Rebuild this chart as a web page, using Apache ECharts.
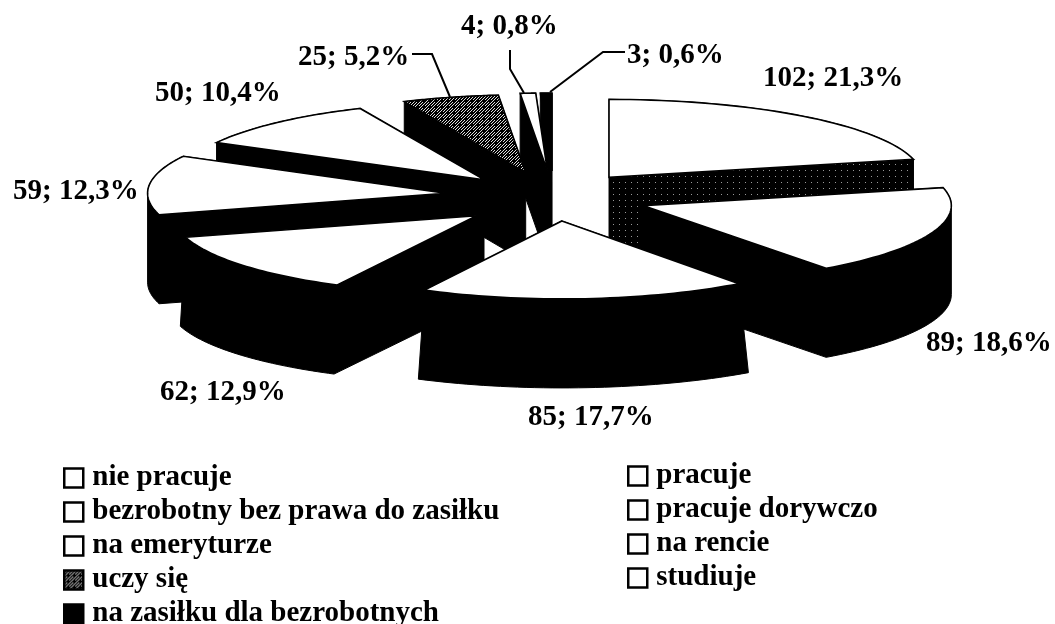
<!DOCTYPE html>
<html>
<head>
<meta charset="utf-8">
<style>html,body{margin:0;padding:0;background:#fff}#main{width:1055px;height:624px}</style>
<script src="https://cdn.jsdelivr.net/npm/echarts@6/dist/echarts.min.js"></script>
</head>
<body>
<div id="main"></div>
<script>
// order = clockwise from 12 o'clock, legend reads row by row
const categories = ['nie pracuje', 'pracuje', 'bezrobotny bez prawa do zasiłku', 'pracuje dorywczo',
    'na emeryturze', 'na rencie', 'uczy się', 'studiuje', 'na zasiłku dla bezrobotnych'];
const values = [102, 89, 85, 62, 59, 50, 25, 4, 3];
const leftLegend = ['nie pracuje', 'bezrobotny bez prawa do zasiłku', 'na emeryturze', 'uczy się', 'na zasiłku dla bezrobotnych'];
const rightLegend = ['pracuje', 'pracuje dorywczo', 'na rencie', 'studiuje'];

// layout
const labelPos = [[763, 79], [926, 344], [528, 418], [160, 393], [13, 192], [155, 94], [298, 58], [461, 27], [627, 56]];
const leaders = { 6: [[412, 54], [432, 54], [450, 97]], 7: [[510, 50], [510, 69], [524, 93]], 8: [[625, 52], [603, 52], [550, 92]] };
const radiusScale = [1.05, 1.035, 1, 1.015, 1, 1.02, 1, 1, 1];
const bottomSpread = [1, 1, 1.05, 1.015, 1, 1, 1, 1, 1];
const nudge = [[-2, 1], [0, 1], [5, 0], [5, 4], [-4, 0], [3, 2], [2, 1], [5, 0], [5, 0]];
const drawOrder = [8, 7, 6, 5, 0, 4, 1, 3, 2];
const cx = 549, cy = 196, rx = 298, ry = 78, explodeX = 100, explodeY = 25, depth = 89;
const labelFont = 'bold 29px "Liberation Serif"';

function stipple(bg, fg, cells) {
    const c = document.createElement('canvas');
    c.width = c.height = 6;
    const g = c.getContext('2d');
    g.fillStyle = bg;
    g.fillRect(0, 0, 6, 6);
    g.fillStyle = fg;
    cells.forEach(p => g.fillRect(p[0], p[1], 1, 1));
    return { image: c, repeat: 'repeat' };
}
const gray = stipple('#000', '#ddd', [[0, 5], [1, 4], [2, 3], [3, 2], [4, 1], [5, 0], [2, 0], [1, 1], [0, 2], [5, 3]]);
const darkWall = stipple('#000', '#999', [[1, 2]]);
const topFill = categories.map((c, i) => i === 6 ? gray : i === 8 ? '#000' : '#fff');
const wallFill = categories.map((c, i) => i === 0 ? darkWall : '#000');

const total = values.reduce((a, b) => a + b, 0);
let sum = 0;
const starts = values.map(v => { const s = sum; sum += v; return s; });

function hull(pts) {
    const p = pts.slice().sort((a, b) => a[0] - b[0] || a[1] - b[1]);
    const cross = (o, a, b) => (a[0] - o[0]) * (b[1] - o[1]) - (a[1] - o[1]) * (b[0] - o[0]);
    const half = list => {
        const out = [];
        list.forEach(q => {
            while (out.length > 1 && cross(out[out.length - 2], out[out.length - 1], q) <= 0) out.pop();
            out.push(q);
        });
        out.pop();
        return out;
    };
    return half(p).concat(half(p.slice().reverse()));
}

function sliceItem(i) {
    return function (params, api) {
        const v = api.value(0);
        const a0 = starts[i] / total * 2 * Math.PI;
        const a1 = a0 + v / total * 2 * Math.PI;
        const mid = (a0 + a1) / 2;
        const ox = cx + nudge[i][0] + explodeX * Math.sin(mid), oy = cy + nudge[i][1] - explodeY * Math.cos(mid);
        const face = [[ox, oy]];
        for (let k = 0; k <= 40; k++) {
            const t = a0 + (a1 - a0) * k / 40;
            face.push([ox + rx * radiusScale[i] * Math.sin(t), oy - ry * Math.cos(t)]);
        }
        const bottom = face.map(p => [cx + (p[0] - cx) * bottomSpread[i], p[1] + depth]);
        return {
            type: 'group',
            children: [
                { type: 'polygon', shape: { points: hull(face.concat(bottom)) }, style: { fill: wallFill[i], stroke: '#000', lineWidth: 1 } },
                { type: 'polygon', shape: { points: face }, style: { fill: topFill[i], stroke: '#000', lineWidth: 1.6 } }
            ]
        };
    };
}

// labels sit above all slices
function labelItem(params, api) {
    const i = params.dataIndex, v = api.value(0);
    const children = [{
        type: 'text', x: labelPos[i][0], y: labelPos[i][1],
        style: { text: v + '; ' + (v / total * 100).toFixed(1).replace('.', ',') + '%', font: labelFont, fill: '#000', verticalAlign: 'middle' }
    }];
    if (leaders[i]) {
        children.push({ type: 'polyline', shape: { points: leaders[i] }, style: { fill: null, stroke: '#000', lineWidth: 2 } });
    }
    return { type: 'group', children: children };
}

function legendData(names) {
    return names.map(n => {
        const i = categories.indexOf(n);
        return { name: n, icon: 'rect', itemStyle: { color: topFill[i], borderColor: '#000', borderWidth: 2.5 } };
    });
}
function legendBase(names, left, top) {
    return {
        data: legendData(names), orient: 'vertical', left: left, top: top, height: 170, itemGap: 4, itemWidth: 19, itemHeight: 19,
        selectedMode: false, padding: 0, align: 'left',
        textStyle: { fontFamily: 'Liberation Serif', fontWeight: 'bold', fontSize: 29, color: '#000', padding: [0, 0, 0, 4], height: 30, lineHeight: 30 }
    };
}

let myChart = echarts.init(document.querySelector('#main'), null, { renderer: 'canvas' });
let series = drawOrder.map((i, n) => ({
    type: 'custom',
    name: categories[i],
    coordinateSystem: 'none',
    z: 2 + n,
    silent: true,
    data: [[values[i]]],
    renderItem: sliceItem(i)
}));
series.push({
    type: 'custom',
    name: 'etykiety',
    coordinateSystem: 'none',
    z: 20,
    silent: true,
    data: values.map(v => [v]),
    renderItem: labelItem
});
let option = {
    animation: false,
    backgroundColor: '#fff',
    legend: [legendBase(leftLegend, 63, 463), legendBase(rightLegend, 627, 461)],
    series: series
};
myChart.setOption(option);
</script>
</body>
</html>
